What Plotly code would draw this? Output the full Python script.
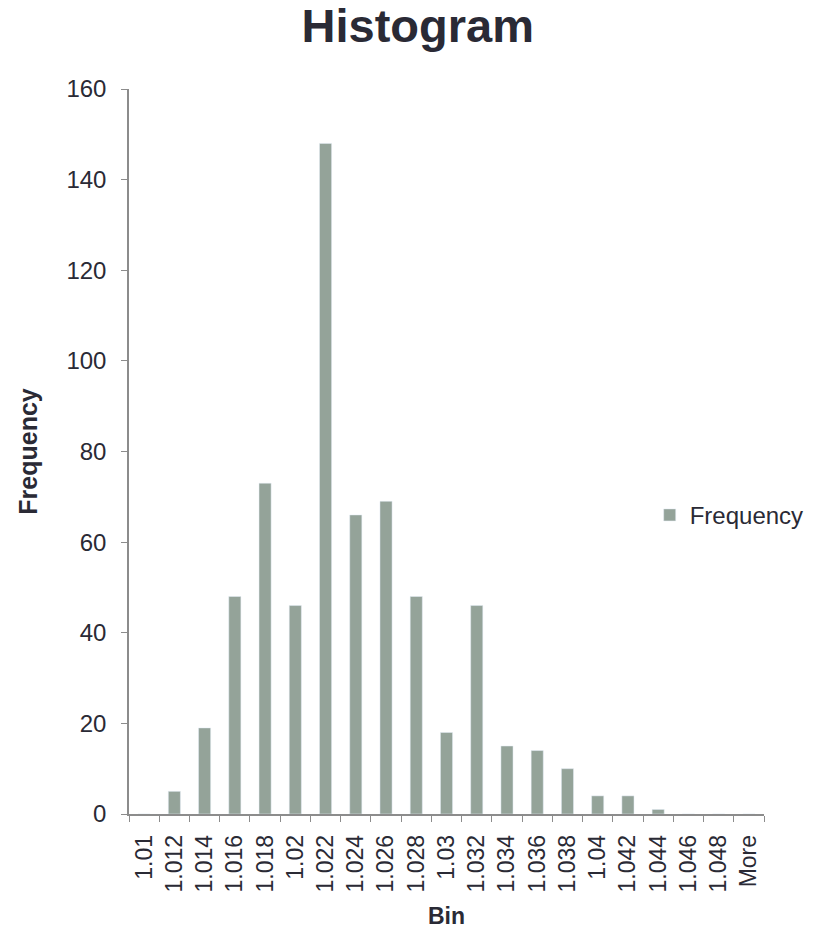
import plotly.graph_objects as go

bins = ["1.01", "1.012", "1.014", "1.016", "1.018", "1.02", "1.022", "1.024", "1.026",
        "1.028", "1.03", "1.032", "1.034", "1.036", "1.038", "1.04", "1.042", "1.044",
        "1.046", "1.048", "More"]
frequency = [0, 5, 19, 48, 73, 46, 148, 66, 69, 48, 18, 46, 15, 14, 10, 4, 4, 1, 0, 0, 0]

txt = "#2a2a35"
font = "Liberation Sans, Arial, sans-serif"

fig = go.Figure(go.Bar(x=bins, y=frequency, name="Frequency", marker_color="#94a399",
                       showlegend=True))

fig.update_layout(
    width=824, height=950,
    margin=dict(l=129, r=60, t=89, b=136),
    paper_bgcolor="white", plot_bgcolor="white",
    bargap=0.6,
    font=dict(family=font, color=txt, size=23),
    title=dict(text="<b>Histogram</b>", x=0.507, xanchor="center", y=0.973, yanchor="middle",
               font=dict(size=47, color=txt, family=font)),
    legend=dict(x=0.82, xanchor="left", y=0.412, yanchor="middle", itemwidth=30,
                font=dict(size=24, color=txt), bgcolor="rgba(0,0,0,0)"),
    xaxis=dict(type="category", showline=True, linecolor="#8c8c8c", linewidth=1.5,
               ticks="outside", ticklen=6, tickcolor="#8c8c8c", tickson="boundaries",
               tickangle=-90, tickfont=dict(size=23, color=txt), showgrid=False,
               ticklabelstandoff=10,
               title=dict(text="<b>Bin</b>", font=dict(size=23, color=txt), standoff=16)),
    yaxis=dict(range=[0, 160], dtick=20, showline=True, linecolor="#8c8c8c", linewidth=1.5,
               ticks="outside", ticklen=6, tickcolor="#8c8c8c", showgrid=False,
               zeroline=False, tickfont=dict(size=24, color=txt), ticklabelstandoff=10,
               title=dict(text="<b>Frequency</b>", font=dict(size=25, color=txt), standoff=22)),
)

fig.write_html("out.html")
